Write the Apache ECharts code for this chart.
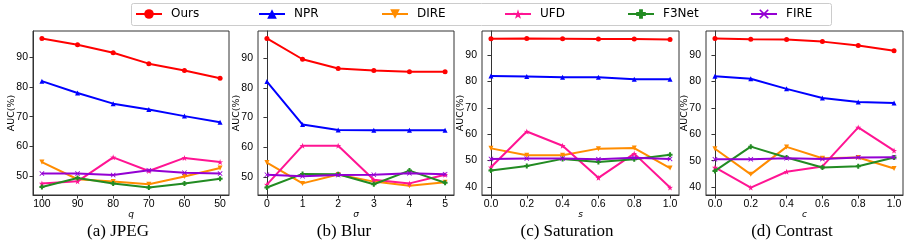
<!DOCTYPE html>
<html>
<head>
<meta charset="utf-8">
<script src="https://cdn.jsdelivr.net/npm/echarts@6/dist/echarts.min.js"></script>
<style>html,body{margin:0;padding:0;background:#fff}#c{width:914px;height:241px}</style>
</head>
<body>
<div id="c"></div>
<script>
// ---- data ----
const methods = ['Ours', 'NPR', 'DIRE', 'UFD', 'F3Net', 'FIRE'];
const jpegX = [100, 90, 80, 70, 60, 50];
const blurX = [0, 1, 2, 3, 4, 5];
const satX = [0.0, 0.2, 0.4, 0.6, 0.8, 1.0];
const contrastX = [0.0, 0.2, 0.4, 0.6, 0.8, 1.0];
const yTicks = [40, 50, 60, 70, 80, 90];
// rows follow the order of `methods`
const jpegAUC = [
  [96.4, 94.3, 91.6, 87.9, 85.6, 83.0],
  [82.0, 78.0, 74.4, 72.4, 70.2, 68.1],
  [54.7, 48.9, 48.1, 47.2, 49.8, 52.7],
  [47.5, 48.2, 56.3, 51.7, 56.1, 54.7],
  [46.3, 49.3, 47.5, 46.1, 47.5, 49.1],
  [50.8, 50.8, 50.3, 51.9, 51.1, 50.8]
];
const blurAUC = [
  [96.6, 89.6, 86.5, 85.8, 85.4, 85.4],
  [82.1, 67.6, 65.8, 65.7, 65.7, 65.7],
  [54.8, 47.8, 50.8, 48.4, 47.0, 48.2],
  [47.4, 60.5, 60.5, 49.0, 47.8, 50.7],
  [46.4, 51.0, 50.9, 47.5, 52.1, 48.0],
  [50.7, 50.2, 50.6, 50.7, 51.2, 50.9]
];
const satAUC = [
  [96.3, 96.4, 96.3, 96.2, 96.2, 96.0],
  [82.1, 81.9, 81.6, 81.6, 80.9, 80.9],
  [54.6, 52.0, 52.0, 54.5, 54.7, 47.1],
  [47.4, 61.0, 55.6, 43.4, 52.6, 39.7],
  [46.2, 47.9, 50.6, 49.4, 50.5, 52.2],
  [50.6, 50.7, 50.7, 50.5, 51.0, 50.6]
];
const contrastAUC = [
  [96.3, 96.0, 95.9, 95.1, 93.6, 91.6],
  [82.0, 81.0, 77.2, 73.7, 72.2, 71.8],
  [54.5, 44.8, 55.2, 50.9, 51.2, 47.0],
  [47.4, 39.8, 45.8, 47.8, 62.6, 53.8],
  [46.1, 55.3, 51.2, 47.4, 47.9, 51.2],
  [50.5, 50.5, 50.9, 50.6, 51.2, 51.3]
];
const panelNames = ['q', 'σ', 's', 'c'];
const captions = ['(a) JPEG', '(b) Blur', '(c) Saturation', '(d) Contrast'];

// ---- styles ----
const colors = ['#ff0000', '#0000ff', '#ff8c00', '#ff1493', '#228b22', '#9400d3'];
const STAR = 'path://M50,0L61.8,35.3L98.1,34.5L69.1,56.5L79.4,90.5L50,70L20.6,90.5L30.9,56.5L1.9,34.5L38.2,35.3Z';
const PLUS = 'path://M3,0H7V3H10V7H7V10H3V7H0V3H3Z';
const CROSS = 'path://M0,1.2L1.2,0L5,3.8L8.8,0L10,1.2L6.2,5L10,8.8L8.8,10L5,6.2L1.2,10L0,8.8L3.8,5Z';
const symbols = ['circle', 'triangle', 'triangle', STAR, PLUS, CROSS];
const symbolRot = [0, 0, 180, 0, 0, 0];
const symbolSizes = [5, 5, 5, 6, 5, 5];

const panels = [
  {x: jpegX, y: jpegAUC, left: 33, width: 196, xmin: 47.5, xmax: 102.5, inverse: true, fmt: v => String(v)},
  {x: blurX, y: blurAUC, left: 258, width: 196, xmin: -0.25, xmax: 5.25, inverse: false, fmt: v => String(v)},
  {x: satX, y: satAUC, left: 482, width: 197, xmin: -0.05, xmax: 1.05, inverse: false, fmt: v => v.toFixed(1)},
  {x: contrastX, y: contrastAUC, left: 706, width: 197, xmin: -0.05, xmax: 1.05, inverse: false, fmt: v => v.toFixed(1)}
];

const axisColor = '#333';
const grids = [], xAxes = [], yAxes = [], series = [];
panels.forEach((p, i) => {
  grids.push({left: p.left, width: p.width, top: 31, height: 164, show: true, borderColor: axisColor, borderWidth: 1, backgroundColor: 'transparent'});
  let all = [].concat(...p.y);
  let lo = Math.min(...all), hi = Math.max(...all), pad = 0.05 * (hi - lo);
  const ymin = lo - pad, ymax = hi + pad;
  const yt = yTicks.filter(v => v >= ymin && v <= ymax);
  xAxes.push({
    type: 'value', gridIndex: i, min: p.xmin, max: p.xmax, inverse: p.inverse,
    name: panelNames[i], nameLocation: 'middle', nameGap: 15, nameMoveOverlap: false,
    nameTextStyle: {fontFamily: 'DejaVu Sans', fontStyle: 'italic', fontSize: 9, color: '#000'},
    splitLine: {show: false},
    axisLine: {show: true, lineStyle: {color: axisColor, width: 1}},
    axisTick: {show: true, length: 3.5, lineStyle: {color: axisColor}, customValues: p.x},
    axisLabel: {color: '#000', fontFamily: 'Liberation Sans', fontSize: 10.5, margin: 4, customValues: p.x, formatter: p.fmt}
  });
  yAxes.push({
    type: 'value', gridIndex: i, min: ymin, max: ymax,
    name: 'AUC(%)', nameLocation: 'middle', nameGap: 16, nameRotate: 90, nameMoveOverlap: false,
    nameTextStyle: {fontFamily: 'DejaVu Sans', fontSize: 9.5, color: '#000'},
    splitLine: {show: false},
    axisLine: {show: true, lineStyle: {color: axisColor, width: 1}},
    axisTick: {show: true, length: 3.5, lineStyle: {color: axisColor}, customValues: yt},
    axisLabel: {color: '#000', fontFamily: 'Liberation Sans', fontSize: 10.5, margin: 5, customValues: yt}
  });
  methods.forEach((m, k) => {
    series.push({
      name: m, type: 'line', xAxisIndex: i, yAxisIndex: i,
      data: p.x.map((xv, j) => [xv, p.y[k][j]]),
      symbol: symbols[k], symbolRotate: symbolRot[k], symbolSize: symbolSizes[k],
      showAllSymbol: true,
      lineStyle: {color: colors[k], width: 2},
      itemStyle: {color: colors[k], borderWidth: 0},
      emphasis: {disabled: true},
      animation: false, silent: true, z: 2 + k
    });
  });
});

const captionX = [118, 344, 567, 792];
const graphics = [{
  type: 'rect', shape: {x: 131.5, y: 3.5, width: 700, height: 22, r: 2},
  style: {fill: '#fff', stroke: '#cccccc', lineWidth: 1}, z: -1
}];
captions.forEach((t, i) => {
  graphics.push({type: 'text', x: captionX[i], y: 231.5,
    style: {text: t, fontFamily: 'Liberation Serif', fontSize: 17, fill: '#000', align: 'center', verticalAlign: 'middle'}});
});

const legends = methods.map((m, k) => ({
  data: [m], left: 135 + 123 * k, top: 8, padding: 0, itemWidth: 26, itemHeight: 12,
  textStyle: {fontFamily: 'DejaVu Sans', fontSize: 12, color: '#000', padding: [0, 0, 0, 4]},
  selectedMode: false
}));

const chart = echarts.init(document.getElementById('c'), null, {renderer: 'canvas'});
chart.setOption({
  animation: false,
  backgroundColor: '#fff',
  graphic: graphics,
  legend: legends,
  grid: grids, xAxis: xAxes, yAxis: yAxes, series: series
});
</script>
</body>
</html>
